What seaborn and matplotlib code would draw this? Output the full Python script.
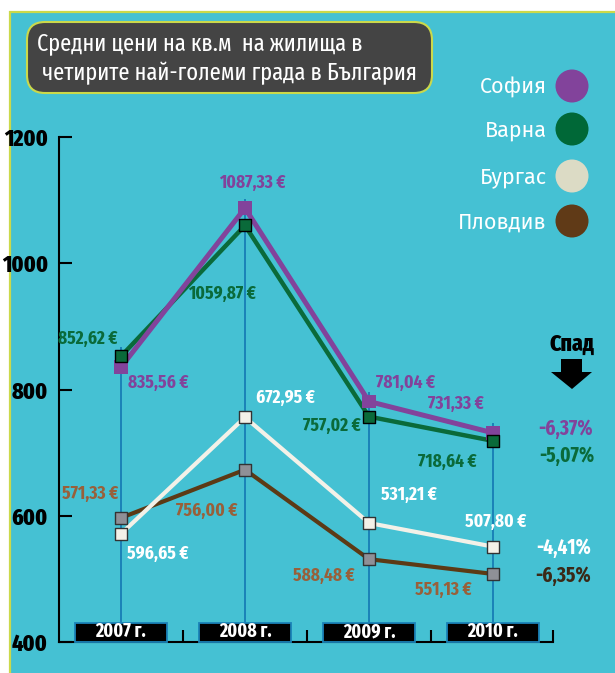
import matplotlib
matplotlib.use("Agg")
import matplotlib.pyplot as plt
import seaborn as sns
import numpy as np
from matplotlib import font_manager as fm
from matplotlib.patches import Rectangle, FancyBboxPatch, Polygon, Circle

# ---------------- data ----------------
years = ["2007 г.", "2008 г.", "2009 г.", "2010 г."]
sofia = [835.56, 1087.33, 781.04, 731.33]
varna = [852.62, 1059.87, 757.02, 718.64]
burgas = [596.65, 672.95, 531.21, 507.80]
plovdiv = [571.33, 756.00, 588.48, 551.13]
cities = ["София", "Варна", "Бургас", "Пловдив"]
changes = ["-6,37%", "-5,07%", "-4,41%", "-6,35%"]
yticks = [400, 600, 800, 1000, 1200]

names = sorted({f.name for f in fm.fontManager.ttflist})

def pick(cands, default):
    for n in cands:
        if n in names:
            return n
    return default

F_COND = pick(["Fira Sans Condensed", "Roboto Condensed", "PT Sans Narrow", "Roboto"], "DejaVu Sans")
F_XCOND = pick(["Fira Sans Extra Condensed", "Fira Sans Condensed", "Roboto Condensed", "Roboto"], "DejaVu Sans")
F_LEG = pick(["Fira Sans", "Open Sans"], "DejaVu Sans")

sns.set_theme(style="white")
plt.rcParams["font.family"] = [F_XCOND, "DejaVu Sans"]

BG = "#45c1d3"
FRAME = "#cbd94a"
PURPLE = "#82439b"
GREEN = "#0a6a3a"
WHITE_L = "#f3f1e8"
BROWN_L = "#5c3a15"
GRAY_M = "#8f9097"
BROWN_T = "#98603a"
VBLUE = "#1a82b8"

W, H = 615, 673
fig = plt.figure(figsize=(W / 100, H / 100), dpi=100)
fig.patch.set_facecolor("white")

ov = fig.add_axes([0, 0, 1, 1], zorder=0)
ov.set_xlim(0, W)
ov.set_ylim(H, 0)
ov.axis("off")
ov.add_patch(Rectangle((10, 12), W + 20, H + 20, fc=BG, ec=FRAME, lw=1.6))

ov.add_patch(FancyBboxPatch((27, 22), 405, 71,
                            boxstyle="round,pad=0,rounding_size=18",
                            fc="#444444", ec=FRAME, lw=1.5))
ov.text(37, 43, "Средни цени на кв.м  на жилища в", color="white",
        fontsize=17.5, va="center", ha="left", fontweight="normal",
        family=[F_XCOND, "DejaVu Sans"])
ov.text(37, 73, " четирите най-големи града в България", color="white",
        fontsize=17.5, va="center", ha="left", fontweight="normal",
        family=[F_XCOND, "DejaVu Sans"])

leg_cols = [PURPLE, "#006837", "#dcdbc5", "#603a17"]
leg_y = [86, 129, 176, 221]
for name, c, y in zip(cities, leg_cols, leg_y):
    ov.add_patch(Circle((572, y), 16.5, fc=c, ec="none"))
    ov.text(547, y + 1, name, color="white", fontsize=15.5, ha="right",
            va="center", family=[F_LEG, "DejaVu Sans"])

ov.text(572, 344, "Спад", color="black", fontsize=17, fontweight="heavy",
        ha="center", va="center")
ov.add_patch(Polygon([(561, 359), (582, 359), (582, 372), (592, 372),
                      (572, 389), (551, 372), (561, 372)], closed=True,
                     fc="black", ec="none"))

pct_cols = [PURPLE, GREEN, "white", "#3b2917"]
pct_pos = [(566, 429), (567, 456), (564, 548), (563, 576)]
for t, c, (px, py) in zip(changes, pct_cols, pct_pos):
    ov.text(px, py, t, color=c, fontsize=15, fontweight="bold",
            ha="center", va="center")

ax = fig.add_axes([59 / W, 31 / H, (553 - 59) / W, (642 - 137) / H], zorder=1)
ax.patch.set_alpha(0)
xs = np.arange(len(years))
ax.set_xlim(-0.5, 3.484)
ax.set_ylim(400, 1200)

tops = np.max(np.array([sofia, varna, burgas, plovdiv]), axis=0) + 15
ax.vlines(xs, 400, tops, color=VBLUE, lw=1.4, zorder=1)

sns.lineplot(x=xs, y=burgas, color=BROWN_L, lw=3.0, ax=ax, zorder=3)
sns.lineplot(x=xs, y=plovdiv, color=WHITE_L, lw=3.0, ax=ax, zorder=3.1)
sns.lineplot(x=xs, y=varna, color=GREEN, lw=3.2, ax=ax, zorder=3.2)
sns.lineplot(x=xs, y=sofia, color=PURPLE, lw=3.6, ax=ax, zorder=3.3)

sns.scatterplot(x=xs, y=burgas, marker="s", s=80, color=GRAY_M,
                edgecolor="#333333", linewidth=1.0, ax=ax, zorder=4)
sns.scatterplot(x=xs, y=plovdiv, marker="s", s=80, color=WHITE_L,
                edgecolor="#333333", linewidth=1.0, ax=ax, zorder=4)
sns.scatterplot(x=xs, y=sofia, marker="s", s=95, color=PURPLE,
                edgecolor="none", linewidth=0, ax=ax, zorder=4.1)
sns.scatterplot(x=xs, y=varna, marker="s", s=80, color=GREEN,
                edgecolor="black", linewidth=1.0, ax=ax, zorder=4.2)

def fmt(v):
    return f"{v:.2f}".replace(".", ",") + " €"

label_spec = [
    (sofia, PURPLE, [(7, -16, "left"), (7, 25, "center"), (7, 19, "left"), (-9, 29, "right")]),
    (varna, GREEN, [(-3, 17, "right"), (-23, -68, "center"), (-8, -9, "right"), (-16, -21, "right")]),
    (plovdiv, BROWN_T, [(-3, 40, "right"), (-7, -94, "right"), (-14, -53, "right"), (-21, -43, "right")]),
    (burgas, "white", [(6, -36, "left"), (11, 72, "left"), (12, 64, "left"), (-28, 52, "left")]),
]
for vals, col, offs in label_spec:
    for i, (v, (dx, dy, ha)) in enumerate(zip(vals, offs)):
        ax.annotate(fmt(v), xy=(i, v), xytext=(dx, dy), textcoords="offset pixels",
                    ha=ha, va="center", color=col, fontsize=13.5,
                    fontweight="bold", zorder=6, annotation_clip=False)

xt = ax.get_xaxis_transform()
for i, yl in enumerate(years):
    ax.add_patch(Rectangle((i - 0.371, 0), 0.742, 19 / 505, transform=xt,
                           fc="black", ec=VBLUE, lw=1.3, clip_on=False, zorder=5))
    ax.text(i, 10.5 / 505, yl, transform=xt, ha="center", va="center",
            color="white", fontsize=14, fontweight="bold", zorder=6)

for s in ["top", "right"]:
    ax.spines[s].set_visible(False)
for s in ["left", "bottom"]:
    ax.spines[s].set_color("black")
    ax.spines[s].set_linewidth(1.5)
ax.set_yticks(yticks)
ax.set_yticklabels([str(t) for t in yticks], fontsize=17, fontweight="heavy")
ax.tick_params(axis="y", direction="in", length=9.5, width=1.5, pad=8,
               colors="black", left=True)
ax.set_xticks([0.5, 1.5, 2.5, 3.484])
ax.set_xticklabels([])
ax.tick_params(axis="x", direction="in", length=8.5, width=1.5, bottom=True,
               colors="black")
ax.set_xlabel("")
ax.set_ylabel("")

fig.savefig("out.png", dpi=100)
